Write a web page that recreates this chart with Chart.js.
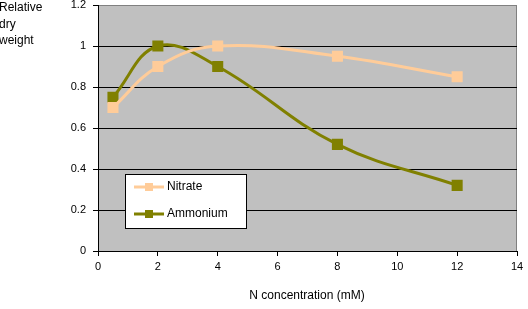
<!DOCTYPE html>
<html>
<head>
<meta charset="utf-8">
<script src="https://cdn.jsdelivr.net/npm/chart.js@4"></script>
<style>
  html, body { margin: 0; padding: 0; background: #fff; }
  #wrap { width: 528px; height: 309px; position: relative; }
</style>
</head>
<body>
<div id="wrap"><canvas id="lineChart" width="528" height="309"></canvas></div>
<script>
// N concentration (mM)
const concentrations = [0.5, 2, 4, 8, 12];
// relative dry weight
const nitrate = [0.70, 0.90, 1.00, 0.95, 0.85];
const ammonium = [0.75, 1.00, 0.90, 0.52, 0.32];
const seriesNames = ['Nitrate', 'Ammonium'];
const yTitleLines = ['Relative', 'dry', 'weight'];
const xTitle = 'N concentration (mM)';

const FONT = '"Liberation Sans", Arial, sans-serif';

function toPoints(vals) {
    return concentrations.map((c, i) => ({ x: c, y: vals[i] }));
}

// gray plot area with a thin border
const plotBackground = {
    id: 'plotBackground',
    beforeDraw(chart) {
        const { ctx, chartArea: a } = chart;
        ctx.save();
        ctx.fillStyle = '#c0c0c0';
        ctx.fillRect(a.left, a.top, a.right - a.left, a.bottom - a.top);
        ctx.strokeStyle = '#808080';
        ctx.lineWidth = 1;
        ctx.strokeRect(a.left + 0.5, a.top + 0.5, a.right - a.left - 1, a.bottom - a.top);
        ctx.restore();
    }
};

// axis titles and the boxed legend inside the plot
const extras = {
    id: 'extras',
    afterDraw(chart) {
        const { ctx } = chart;
        ctx.save();
        ctx.fillStyle = '#000';
        ctx.font = '12px ' + FONT;
        ctx.textBaseline = 'middle';
        ctx.textAlign = 'left';
        yTitleLines.forEach((t, i) => ctx.fillText(t, -1, 8 + i * 16.5));
        ctx.textAlign = 'center';
        ctx.fillText(xTitle, 307, 296);

        // legend
        const lx = 125, ly = 174, lw = 121, lh = 54;
        ctx.fillStyle = '#fff';
        ctx.fillRect(lx, ly, lw, lh);
        ctx.strokeStyle = '#000';
        ctx.lineWidth = 1;
        ctx.strokeRect(lx + 0.5, ly + 0.5, lw, lh);
        chart.data.datasets.forEach((ds, i) => {
            const cy = 187 + i * 27;
            ctx.strokeStyle = ds.borderColor;
            ctx.lineWidth = 3;
            ctx.beginPath();
            ctx.moveTo(134, cy);
            ctx.lineTo(164, cy);
            ctx.stroke();
            ctx.fillStyle = ds.backgroundColor;
            ctx.fillRect(145, cy - 4, 8, 8);
            ctx.fillStyle = '#000';
            ctx.textAlign = 'left';
            ctx.fillText(ds.label, 167, cy);
        });
        ctx.restore();
    }
};

const lineChart = new Chart(document.getElementById('lineChart').getContext('2d'), {
    type: 'line',
    data: {
        datasets: [{
            label: seriesNames[0],
            data: toPoints(nitrate),
            borderColor: '#ffcc99',
            backgroundColor: '#ffcc99',
            borderWidth: 3,
            pointStyle: 'rect',
            pointRadius: 5.7,
            pointHoverRadius: 5.7,
            tension: 0.4,
            fill: false
        }, {
            label: seriesNames[1],
            data: toPoints(ammonium),
            borderColor: '#808000',
            backgroundColor: '#808000',
            borderWidth: 3,
            pointStyle: 'rect',
            pointRadius: 5.7,
            pointHoverRadius: 5.7,
            tension: 0.4,
            fill: false
        }]
    },
    options: {
        responsive: false,
        animation: false,
        devicePixelRatio: 1,
        layout: { autoPadding: false, padding: { left: 0, right: 11, top: 5, bottom: 0 } },
        plugins: {
            legend: { display: false },
            tooltip: { enabled: false }
        },
        elements: { line: { capBezierPoints: false } },
        scales: {
            x: {
                type: 'linear',
                min: 0,
                max: 14,
                ticks: { stepSize: 2, color: '#000', font: { family: FONT, size: 11 }, padding: 4 },
                grid: { drawOnChartArea: false, drawTicks: true, tickLength: 5, color: '#000' },
                border: { color: '#000', width: 1 },
                afterFit(scale) { scale.height = 58; scale.paddingLeft = 0; scale.paddingRight = 0; }
            },
            y: {
                min: 0,
                max: 1.2,
                ticks: {
                    stepSize: 0.2,
                    color: '#000',
                    font: { family: FONT, size: 11 },
                    padding: 7,
                    callback: v => String(Number(v.toFixed(1)))
                },
                grid: {
                    color: ctx => (ctx.tick && ctx.tick.value >= 1.19) ? '#808080' : '#000',
                    drawTicks: true,
                    tickLength: 5,
                    tickColor: '#000'
                },
                border: { color: '#000', width: 1 },
                afterFit(scale) { scale.width = 98; scale.paddingTop = 0; scale.paddingBottom = 0; }
            }
        }
    },
    plugins: [plotBackground, extras]
});
</script>
</body>
</html>
